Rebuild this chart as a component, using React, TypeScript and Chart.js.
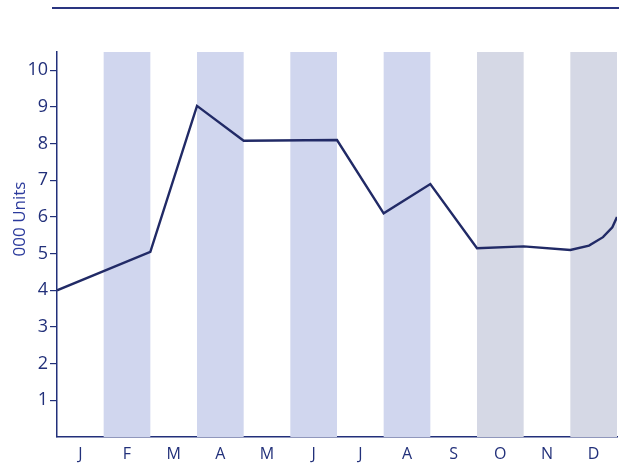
import React, { useEffect, useRef } from "react";
import { Chart, registerables } from "chart.js";

Chart.register(...registerables);

const monthLabels = ["J", "F", "M", "A", "M", "J", "J", "A", "S", "O", "N", "D"];
// positions along the month axis (0 = start of Jan, 12 = end of Dec)
const pointPositions = [0, 2, 3, 4, 6, 7, 8, 9, 10, 11, 11.4, 11.7, 11.9, 12];
const unitValues = [4.0, 5.05, 9.03, 8.08, 8.1, 6.1, 6.9, 5.15, 5.2, 5.1, 5.22, 5.45, 5.72, 6.0];
const yTickValues = [1, 2, 3, 4, 5, 6, 7, 8, 9, 10];
const shadedMonths = [1, 3, 5, 7, 9, 11];
const shadeColors = ["#d0d6ee", "#d0d6ee", "#d0d6ee", "#d0d6ee", "#d5d8e5", "#d5d8e5"];

const NAVY = "#22307a";

export default function App() {
  const ref = useRef<HTMLCanvasElement | null>(null);

  useEffect(() => {
    if (!ref.current) return;

    const bandsPlugin = {
      id: "bands",
      beforeDatasetsDraw(chart: any) {
        const { ctx, chartArea, scales } = chart;
        const x = scales.x;
        ctx.save();
        shadedMonths.forEach((m, i) => {
          const l = x.getPixelForValue(m);
          const r = x.getPixelForValue(m + 1);
          ctx.fillStyle = shadeColors[i];
          ctx.fillRect(l, chartArea.top, r - l, chartArea.bottom - chartArea.top);
        });
        ctx.restore();
      },
    };

    const decorPlugin = {
      id: "decor",
      afterDraw(chart: any) {
        const { ctx } = chart;
        ctx.save();
        ctx.strokeStyle = "#2a3580";
        ctx.lineWidth = 2;
        ctx.beginPath();
        ctx.moveTo(52, 8);
        ctx.lineTo(619, 8);
        ctx.stroke();
        ctx.translate(20, 219);
        ctx.rotate(-Math.PI / 2);
        ctx.fillStyle = "#2b3a9c";
        ctx.font = "17px 'Open Sans', sans-serif";
        ctx.textAlign = "center";
        ctx.textBaseline = "middle";
        ctx.fillText("000 Units", 0, 0);
        ctx.restore();
      },
    };

    const chart = new Chart(ref.current, {
      type: "line",
      data: {
        datasets: [
          {
            data: pointPositions.map((p, i) => ({ x: p, y: unitValues[i] })),
            borderColor: "#212a66",
            borderWidth: 2.4,
            pointRadius: 0,
            tension: 0,
            fill: false,
          },
        ],
      },
      options: {
        animation: false,
        responsive: false,
        maintainAspectRatio: false,
        layout: { padding: { top: 52, right: 7, left: 0, bottom: 0 } },
        plugins: {
          legend: { display: false },
          tooltip: { enabled: false },
        },
        scales: {
          x: {
            type: "linear",
            min: 0,
            max: 12,
            afterBuildTicks(scale: any) {
              scale.ticks = monthLabels.map((_, i) => ({ value: i + 0.5 }));
            },
            afterFit(scale: any) {
              scale.height = 27;
            },
            ticks: {
              autoSkip: false,
              maxRotation: 0,
              color: NAVY,
              padding: 8,
              font: { family: "'Open Sans', sans-serif", size: 16, weight: "500" },
              callback: (_v: any, i: number) => monthLabels[i],
            },
            grid: { display: false, drawTicks: false },
            border: { display: true, color: NAVY, width: 1.5 },
          },
          y: {
            type: "linear",
            min: 0,
            max: 10.5,
            afterBuildTicks(scale: any) {
              scale.ticks = yTickValues.map((v) => ({ value: v }));
            },
            afterFit(scale: any) {
              scale.width = 57;
            },
            ticks: {
              color: NAVY,
              padding: 2,
              font: { family: "'Open Sans', sans-serif", size: 18, weight: "500" },
              callback: (v: any) => String(v),
            },
            grid: {
              display: true,
              drawOnChartArea: false,
              drawTicks: true,
              tickLength: 7,
              color: NAVY,
              lineWidth: 1.2,
            },
            border: { display: true, color: NAVY, width: 1.5 },
          },
        },
      },
      plugins: [bandsPlugin, decorPlugin],
    });

    return () => chart.destroy();
  }, []);

  return (
    <div style={{ position: "fixed", left: 0, top: 0, width: 624, height: 464, background: "#fff" }}>
      <canvas ref={ref} width={624} height={464} style={{ width: 624, height: 464 }} />
    </div>
  );
}
